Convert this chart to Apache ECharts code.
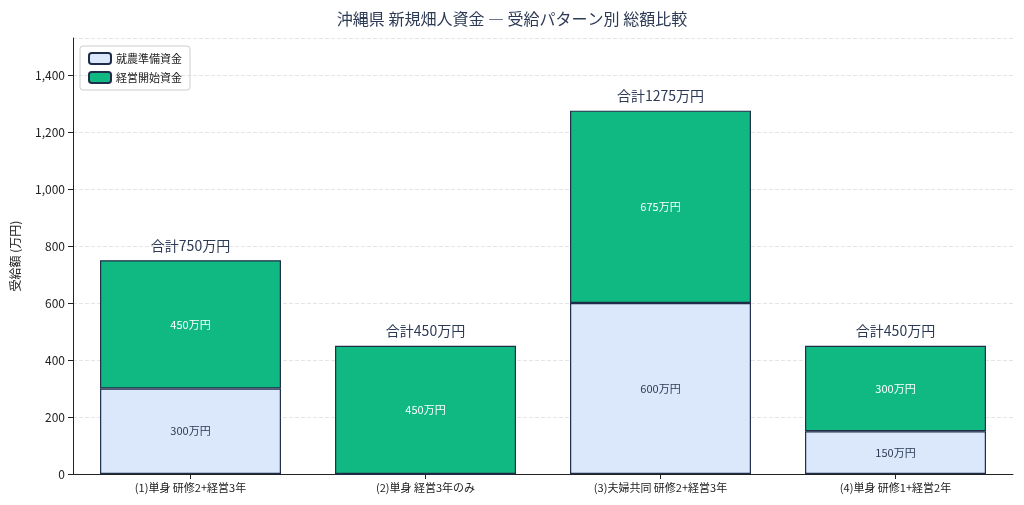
<!DOCTYPE html><html><head><meta charset="utf-8"><script src="https://cdn.jsdelivr.net/npm/echarts@6/dist/echarts.min.js"></script></head><body style="margin:0"><div id="c" style="width:1024px;height:505px"></div><script>
const categories=['(1)単身 研修2+経営3年','(2)単身 経営3年のみ','(3)夫婦共同 研修2+経営3年','(4)単身 研修1+経営2年'];
const prep=[300,0,600,150];
const mgmt=[450,450,675,300];
const totals=prep.map((v,i)=>v+mgmt[i]);
const F='"Noto Sans CJK JP"';
const chart=echarts.init(document.getElementById('c'));
chart.setOption({
textStyle:{fontFamily:F},
title:{text:'沖縄県 新規畑人資金 ― 受給パターン別 総額比較',left:'center',top:6,textStyle:{fontFamily:F,fontSize:16,fontWeight:'normal',color:'#2d3a55'}},
legend:{data:['就農準備資金','経営開始資金'],orient:'vertical',left:80,top:46,itemWidth:22,itemHeight:11,itemGap:6,borderColor:'#ccc',borderWidth:1,borderRadius:3,padding:[6,8],textStyle:{fontSize:11,color:'#222'}},
grid:{left:73,right:11,top:38,bottom:31},
xAxis:{type:'category',data:categories,axisTick:{show:true,alignWithLabel:true},axisLine:{lineStyle:{color:'#222'}},axisLabel:{color:'#222',fontSize:11}},
yAxis:{type:'value',min:0,max:1530,interval:200,name:'受給額 (万円)',nameLocation:'middle',nameGap:52,nameTextStyle:{fontSize:12,color:'#222'},axisLine:{show:true,lineStyle:{color:'#222'}},axisTick:{show:true},axisLabel:{color:'#222',fontSize:12,showMaxLabel:false},splitLine:{lineStyle:{type:'dashed',color:'#e5e5e5'}}},
series:[
{name:'就農準備資金',type:'bar',stack:'a',barWidth:'77%',data:prep,itemStyle:{color:'#dbe8fb',borderColor:'#1f2d4a',borderWidth:1.2},label:{show:true,position:'inside',color:'#2d3a55',fontSize:11,formatter:p=>p.value>0?p.value+'万円':''}},
{name:'経営開始資金',type:'bar',stack:'a',data:mgmt,itemStyle:{color:'#10b981',borderColor:'#1f2d4a',borderWidth:1.2},label:{show:true,position:'inside',color:'#fff',fontSize:11,formatter:p=>p.value+'万円'}},
{name:'total',type:'bar',stack:'a',data:totals.map(()=>0),itemStyle:{color:'transparent'},label:{show:true,position:'top',distance:8,color:'#2d3a55',fontSize:14,formatter:p=>'合計'+totals[p.dataIndex]+'万円'}}
]});
</script></body></html>
